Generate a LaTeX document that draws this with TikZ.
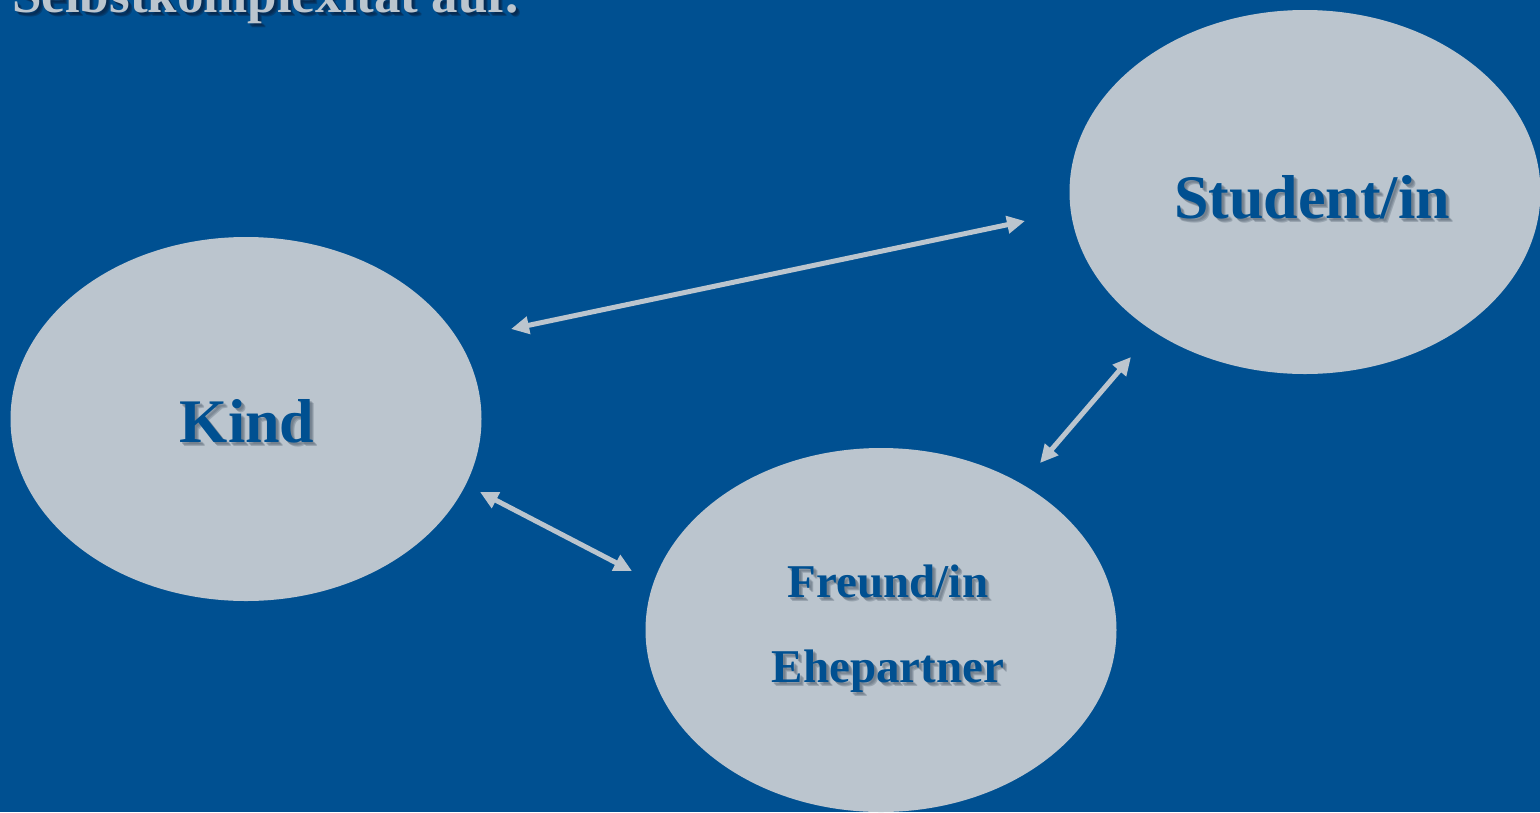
\documentclass[tikz,border=0pt]{standalone}
\usepackage{fontspec}
\setmainfont{Liberation Serif}
\usetikzlibrary{shapes.geometric,arrows.meta}
\definecolor{bgblue}{RGB}{0,80,145}
\definecolor{bubble}{RGB}{187,197,206}
\definecolor{shadowgray}{RGB}{90,105,120}
\definecolor{shadowdark}{RGB}{10,30,60}
\tikzset{
  bubblenode/.style={ellipse, fill=bubble, draw=none, inner sep=0pt,
    minimum width=471pt, minimum height=364pt},
  link/.style={draw=bubble, line width=5pt,
    {Triangle[length=18pt,width=17pt]}-{Triangle[length=18pt,width=17pt]}},
  lbl/.style={anchor=base, inner sep=0pt, text=bgblue},
  lblshadow/.style={anchor=base, inner sep=0pt, text=shadowgray, opacity=0.35},
  bigfont/.style={font=\bfseries\fontsize{62}{70}\selectfont},
  midfont/.style={font=\bfseries\fontsize{47}{55}\selectfont},
}
\begin{document}
\begin{tikzpicture}[x=1pt,y=-1pt]
\fill[bgblue] (0,0) rectangle (1540,812);
\useasboundingbox (0,0) rectangle (1540,812);
% title (cut off at top, as in the reference)
\foreach \d in {2,3,4}
  \node[anchor=base west, inner sep=0pt, text=shadowdark, opacity=0.35, font=\bfseries\fontsize{53}{60}\selectfont] at (12+\d,12+\d) {Selbstkomplexität auf.};
\node[anchor=base west, inner sep=0pt, text=bubble, font=\bfseries\fontsize{53}{60}\selectfont] (title) at (12,12) {Selbstkomplexität auf.};
% ellipses
\node[bubblenode] (student) at (1305,192) {};
\node[bubblenode] (kind) at (246,419) {};
\node[bubblenode] (freund) at (881,630) {};
% label shadows
\foreach \d in {2,3,4} {
  \node[lblshadow, bigfont] at (1312+\d,218+\d) {Student/in};
  \node[lblshadow, bigfont] at (247+\d,442+\d) {Kind};
  \node[lblshadow, midfont] at (888+\d,597+\d) {Freund/in};
  \node[lblshadow, midfont] at (888+\d,682+\d) {Ehepartner};
}
% labels
\node[lbl, bigfont] (tstudent) at (1312,218) {Student/in};
\node[lbl, bigfont] (tkind) at (247,442) {Kind};
\node[lbl, midfont] (tfreund) at (888,597) {Freund/in};
\node[lbl, midfont] (tehe) at (888,682) {Ehepartner};
% connector ends
\coordinate (ks) at (511,329);
\coordinate (sk) at (1025,221);
\coordinate (fs) at (1040,463);
\coordinate (sf) at (1131,357);
\coordinate (kf) at (480,492);
\coordinate (fk) at (632,571);
% connectors
\draw[link] (ks) -- (sk);
\draw[link] (fs) -- (sf);
\draw[link] (kf) -- (fk);
\end{tikzpicture}
\end{document}
